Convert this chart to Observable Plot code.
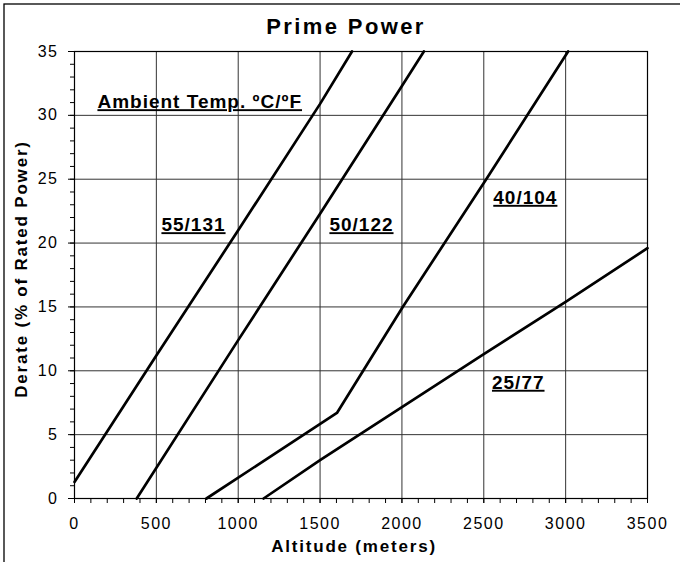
<!DOCTYPE html>
<html>
<head>
<meta charset="utf-8">
<script src="https://cdn.jsdelivr.net/npm/d3@7"></script>
<script src="https://cdn.jsdelivr.net/npm/@observablehq/plot@0.6"></script>
<style>
  html, body { margin: 0; padding: 0; background: white; }
  svg { display: block; }
  g[aria-label="x-axis tick label"], g[aria-label="y-axis tick label"] { letter-spacing: 1.5px; }
  g[aria-description="curve-labels"] text { text-decoration: underline; letter-spacing: 1px; }
  g[aria-description="chart-title"] text { letter-spacing: 2.4px; }
  g[aria-description="axis-title"] text { letter-spacing: 1.8px; }
</style>
</head>
<body>
<div id="chart"></div>
<script>
// ---- data ----
const seriesNames = ["55/131", "50/122", "40/104", "25/77"];

const alt55 = [0, 500, 1000, 1500, 1695];
const der55 = [1.3, 11.2, 21.0, 30.9, 35];

const alt50 = [380, 1000, 1500, 2000, 2134];
const der50 = [0, 12.4, 22.3, 32.3, 35];

const alt40 = [806, 1603, 2005, 2515, 3015];
const der40 = [0, 6.7, 15, 25, 35];

const alt25 = [1155, 1500, 2000, 2500, 3000, 3500];
const der25 = [0, 3.0, 7.15, 11.3, 15.4, 19.6];

const labelText = ["Ambient Temp. ºC/ºF", "55/131", "50/122", "40/104", "25/77"];
const labelAlt = [140, 531, 1557, 2558, 2550];
const labelDer = [30.56, 20.93, 20.93, 23.07, 8.59];

const xMajorTicks = [0, 500, 1000, 1500, 2000, 2500, 3000, 3500];
const yMajorTicks = [0, 5, 10, 15, 20, 25, 30, 35];

const titleText = "Prime Power";
const xTitle = "Altitude (meters)";
const yTitle = "Derate (% of Rated Power)";

// ---- build tables ----
const altitudes = [alt55, alt50, alt40, alt25];
const derates = [der55, der50, der40, der25];
const rows = [];
seriesNames.forEach((s, i) => {
  altitudes[i].forEach((a, j) => rows.push({series: s, alt: a, der: derates[i][j]}));
});
const labels = labelText.map((t, i) => ({text: t, alt: labelAlt[i], der: labelDer[i]}));

const chart = Plot.plot({
  width: 680,
  height: 562,
  marginLeft: 74,
  marginRight: 33,
  marginTop: 51,
  marginBottom: 64,
  x: {domain: [0, 3500]},
  y: {domain: [0, 35]},
  style: {fontFamily: "'Liberation Sans', Arial, sans-serif", fontSize: "16px", color: "black", background: "white"},
  marks: [
    Plot.gridX(xMajorTicks, {stroke: "#333", strokeOpacity: 1, strokeWidth: 1}),
    Plot.gridY(yMajorTicks, {stroke: "#333", strokeOpacity: 1, strokeWidth: 1}),
    Plot.axisX(d3.range(0, 3501, 100), {tickSize: 5, tickFormat: () => "", label: null}),
    Plot.axisX(xMajorTicks, {tickSize: 5, tickPadding: 14, label: null, fontSize: 16, tickFormat: d => String(d)}),
    Plot.axisY(d3.range(0, 36, 1), {tickSize: 4, tickFormat: () => "", label: null}),
    Plot.axisY(yMajorTicks, {tickSize: 6, tickPadding: 10, label: null, fontSize: 16, tickFormat: d => String(d)}),
    Plot.frame({stroke: "black", strokeWidth: 1.2}),
    Plot.line(rows, {x: "alt", y: "der", z: "series", stroke: "black", strokeWidth: 2.7}),
    Plot.text(labels, {x: "alt", y: "der", text: "text", textAnchor: "start", lineAnchor: "bottom",
      fontWeight: "bold", fontSize: 19, fill: "black", ariaDescription: "curve-labels"}),
    Plot.text([titleText], {frameAnchor: "top", dx: -15, dy: -18, lineAnchor: "bottom",
      fontWeight: "bold", fontSize: 22, ariaDescription: "chart-title"}),
    Plot.text([xTitle], {frameAnchor: "bottom", dx: -7, dy: 53, lineAnchor: "bottom",
      fontWeight: "bold", fontSize: 17, ariaDescription: "axis-title"}),
    Plot.text([yTitle], {frameAnchor: "left", dx: -53, dy: -6, rotate: -90, textAnchor: "middle", lineAnchor: "middle",
      fontWeight: "bold", fontSize: 17, ariaDescription: "axis-title"})
  ]
});

// outer chart-area border (left and top visible, rest cut by the picture)
d3.select(chart).insert("rect", ":first-child")
  .attr("x", 4).attr("y", 4).attr("width", 800).attr("height", 800)
  .attr("fill", "none").attr("stroke", "black").attr("stroke-width", 1.3);

document.getElementById("chart").append(chart);
</script>
</body>
</html>
